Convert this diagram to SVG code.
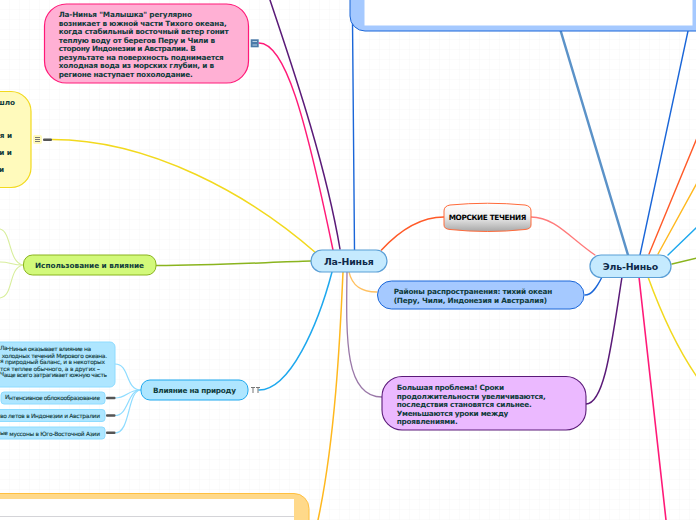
<svg xmlns="http://www.w3.org/2000/svg" width="696" height="520" viewBox="0 0 696 520">
<style>
text{font-family:"DejaVu Sans","Liberation Sans",sans-serif;font-weight:bold;fill:#0f3b3b;font-size:7.3px}
.c{fill:none;stroke-linecap:round}
.sub{font-weight:normal;font-size:5.9px;fill:#123a3a;stroke:#123a3a;stroke-width:.12}
.ct{fill:#0f2a4a;font-size:9.4px}
.m{font-size:7.3px}
.lb{fill:#aee6ff;stroke:#8edcff;stroke-width:1}
.bar{fill:#555;filter:url(#soft)}
</style>
<defs>
<pattern id="grid" width="10" height="10" patternUnits="userSpaceOnUse"><path d="M10 0V10H0" fill="none" stroke="#f6f6f6" stroke-width="1"/></pattern>
<linearGradient id="sea" x1="0" y1="0" x2="0" y2="1"><stop offset="0" stop-color="#ffffff"/><stop offset=".45" stop-color="#f0f0f0"/><stop offset="1" stop-color="#a8a8a8"/></linearGradient>
<filter id="soft" x="-20%" y="-60%" width="140%" height="220%"><feGaussianBlur stdDeviation=".4"/></filter>
</defs>
<rect width="696" height="520" fill="#fff"/>
<rect width="696" height="520" fill="url(#grid)"/>
<g id="connectors">
<path class="c" stroke="#5a1a78" stroke-width="1.5" d="M270 0C290 60 325 160 340 249"/>
<path class="c" stroke="#ff1a78" stroke-width="1.5" d="M259 43C285 43 305 115 333 250"/>
<path class="c" stroke="#1a66d8" stroke-width="1.4" d="M352.500 20L354.500 250"/>
<path class="c" stroke="#f2d91e" stroke-width="1.5" d="M52 139.500C150 139.500 250 195 316 253"/>
<path class="c" stroke="#8ab41e" stroke-width="1.500" d="M156 265.500C220 265.500 270 262 311 261"/>
<path class="c" stroke="#ff5a28" stroke-width="1.500" d="M381.500 250C400 230 420 217 444 217"/>
<path class="c" stroke="#ff7a7a" stroke-width="1.300" d="M531 217C555 217 570 238 595 255"/>
<path class="c" stroke="#ffc060" stroke-width="1.300" d="M349 272C352 285 360 292 377 292"/>
<path class="c" stroke="#9a78a8" stroke-width="1.300" d="M347 272C346 340 345 397 382 397"/>
<path class="c" stroke="#ffb81e" stroke-width="1.500" d="M343 272C340 340 335 440 318 520"/>
<path class="c" stroke="#1ea8ee" stroke-width="1.500" d="M332 272C318 325 290 390 259 390"/>
<path class="c" stroke="#1a66d8" stroke-width="1.400" d="M602 277C597 287 592 295 585 295"/>
<path class="c" stroke="#5a1a78" stroke-width="1.500" d="M622 277C612 340 605 404 586 404"/>
<path class="c" stroke="#ff1a78" stroke-width="1.600" d="M639 277L666 520"/>
<path class="c" stroke="#f2d91e" stroke-width="1.500" d="M648 277C660 310 675 345 697 377"/>
<path class="c" stroke="#5b92c8" stroke-width="2.500" d="M560.700 31L628 255"/>
<path class="c" stroke="#1a66d8" stroke-width="1.400" d="M688 31L640 255"/>
<path class="c" stroke="#ff5a28" stroke-width="1.400" d="M697 138L649 254"/>
<path class="c" stroke="#ffb81e" stroke-width="1.400" d="M697 183L658 254"/>
<path class="c" stroke="#1ea8ee" stroke-width="1.400" d="M697 227L668 255"/>
<path class="c" stroke="#8ab41e" stroke-width="1.400" d="M672 264L697 258"/>
<g stroke="#d8ee9c" stroke-width="1.100">
<path class="c" d="M23 265C8 262 12 232 0 229"/>
<path class="c" d="M23 265C12 265 10 262 0 262"/>
<path class="c" d="M23 265C8 268 14 296 0 298"/>
</g>
<g stroke="#8edcff" stroke-width="1.200">
<path class="c" d="M141 390C125 390 130 364 115 364"/>
<path class="c" d="M141 390C127 390 127 398 115 398"/>
<path class="c" d="M141 390C127 390 129 415.500 115 415.500"/>
<path class="c" d="M141 390C127 390 131 433 115 433"/>
</g>
</g>
<g id="node-top">
<rect x="350" y="-30" width="370" height="61" rx="15" fill="#a5c9ff" stroke="#1a66d8" stroke-width="1"/>
<path d="M364.500 0H692.500V25.500H364.500Z" fill="#fff"/>
</g>
<g id="node-malyshka">
<rect x="44.500" y="4" width="204" height="79" rx="22" fill="#ffb0d4" stroke="#ff1a78" stroke-width="1.200"/>
<text x="58.700" y="17" textLength="133.300">Ла-Нинья "Малышка" регулярно</text>
<text x="58.700" y="25.500" textLength="168">возникает в южной части Тихого океана,</text>
<text x="58.700" y="34" textLength="170">когда стабильный восточный ветер гонит</text>
<text x="58.700" y="42.500" textLength="156.300">теплую воду от берегов Перу и Чили в</text>
<text x="58.700" y="51" textLength="137">сторону Индонезии и Австралии. В</text>
<text x="58.700" y="59.500" textLength="165">результате на поверхность поднимается</text>
<text x="58.700" y="68" textLength="155.300">холодная вода из морских глубин, и в</text>
<text x="58.700" y="76.500" textLength="134">регионе наступает похолодание.</text>
<rect x="250.700" y="39.300" width="8" height="8" fill="#4a7aa8"/>
<path d="M252.500 41.500H257M252.500 45H257" stroke="#b8cfe2" stroke-width="1"/>
</g>
<g id="node-yellow">
<rect x="-40" y="91.500" width="71" height="96" rx="20" fill="#fffabc" stroke="#f2d91e" stroke-width="1.200"/>
<text x="15" y="104.500" text-anchor="end">шло</text>
<text x="12" y="138" text-anchor="end">я и</text>
<text x="12" y="155" text-anchor="end">и и</text>
<text x="4" y="172" text-anchor="end">и</text>
<rect x="33" y="135" width="9" height="9" rx="2" fill="#fffabc"/>
<path d="M35 137.500H40M35 139.500H40M35 141.500H40" stroke="#556" stroke-width=".8"/>
<rect class="bar" x="43" y="138.500" width="9" height="2.500" rx="1"/>
</g>
<g id="node-use">
<rect x="23.500" y="255" width="132.500" height="20" rx="9" fill="#d2f97a" stroke="#8ab41e" stroke-width="1"/>
<text class="m" x="35" y="268" textLength="109">Использование и влияние</text>
</g>
<g id="node-influence">
<rect x="141" y="380" width="107" height="20" rx="9" fill="#aee6ff" stroke="#1ea8ee" stroke-width="1"/>
<text class="m" x="153" y="393" textLength="83">Влияние на природу</text>
<path d="M251 387.500H255M253 387.500V393M256 387.500H260M258 387.500V393" stroke="#777" stroke-width="1" fill="none"/>
</g>
<g id="node-influence-text">
<rect class="lb" x="-20" y="342" width="135" height="45" rx="5"/>
<text class="sub" x="0" y="351.300" textLength="91"><tspan dy="-1">Ла-</tspan><tspan dy="1">Нинья оказывает влияние на</tspan></text>
<text class="sub" x="1.700" y="357.800" textLength="105.300">холодных течений Мирового океана.</text>
<text class="sub" x="0" y="364.300" textLength="105"><tspan dy="-1">я</tspan><tspan dy="1"> природный баланс, и в некоторых</tspan></text>
<text class="sub" x="0" y="370.800" textLength="100">тся теплее обычного, а в других –</text>
<text class="sub" x="0" y="377.300" textLength="107"><tspan dy="-1">Ч</tspan><tspan dy="1">аще всего затрагивает южную часть</tspan></text>
</g>
<g id="node-clouds">
<rect class="lb" x="1" y="392" width="104" height="12" rx="3"/>
<text class="sub" x="5" y="400.300" textLength="95"><tspan dy="-1">И</tspan><tspan dy="1">нтенсивное облокообразование</tspan></text>
<rect class="bar" x="106" y="396.800" width="9.500" height="2.500" rx="1"/>
</g>
<g id="node-summer">
<rect class="lb" x="-20" y="409.500" width="125" height="12" rx="3"/>
<text class="sub" x="0" y="418" textLength="100">во летов в Индонезии и Австралии</text>
<rect class="bar" x="106" y="414.200" width="9.500" height="2.500" rx="1"/>
</g>
<g id="node-monsoon">
<rect class="lb" x="-20" y="427" width="125" height="12" rx="3"/>
<text class="sub" x="0" y="435.500" textLength="100"><tspan dy="-1">ые</tspan><tspan dy="1"> муссоны в Юго-Восточной Азии</tspan></text>
<rect class="bar" x="106" y="431.600" width="9.500" height="2.500" rx="1"/>
</g>
<g id="node-bottom">
<rect x="-40" y="493.500" width="349" height="60" rx="15" fill="#ffd98a" stroke="#ffc040" stroke-width="1"/>
<rect x="-40" y="499" width="334" height="40" fill="#fff"/>
<path d="M0 516.500H294" stroke="#d4d4d8" stroke-width="1"/>
</g>
<g id="node-la-nina">
<rect x="311" y="250" width="76" height="22" rx="11" fill="#c5eafe" stroke="#5b9fd6" stroke-width="1.200"/>
<text class="ct" x="324" y="264.600" textLength="49.700">Ла-Нинья</text>
</g>
<g id="node-el-nino">
<rect x="590" y="255" width="81" height="22.500" rx="11" fill="#c5eafe" stroke="#5b9fd6" stroke-width="1.200"/>
<text class="ct" x="602.700" y="269.800" textLength="55.600">Эль-Ниньо</text>
</g>
<g id="node-sea">
<path d="M450 205Q487.500 201.500 525 205Q531 206 531 211V225Q531 229 525 229.500Q487.500 233.500 450 229.500Q444 229 444 225V211Q444 206 450 205Z" fill="url(#sea)" stroke="#ff6a3a" stroke-width="1"/>
<text x="448.700" y="220.300" textLength="77.600" style="fill:#000">МОРСКИЕ ТЕЧЕНИЯ</text>
</g>
<g id="node-districts">
<rect x="377.500" y="281" width="206.500" height="28" rx="14" fill="#a5c9ff" stroke="#1a66d8" stroke-width="1"/>
<text x="393.700" y="294" textLength="158.600">Районы распространения: тихий океан</text>
<text x="393.700" y="302.500" textLength="153.300">(Перу, Чили, Индонезия и Австралия)</text>
</g>
<g id="node-problem">
<rect x="382" y="376.500" width="204" height="53.500" rx="20" fill="#ebb9ff" stroke="#5a1a78" stroke-width="1.100"/>
<text x="396.700" y="390" textLength="107.300">Большая проблема! Сроки</text>
<text x="396.700" y="398.500" textLength="149">продолжительности увеличиваются,</text>
<text x="396.700" y="407" textLength="135">последствия становятся сильнее.</text>
<text x="396.700" y="415.500" textLength="111.600">Уменьшаются уроки между</text>
<text x="396.700" y="424" textLength="61">проявлениями.</text>
</g>
</svg>
